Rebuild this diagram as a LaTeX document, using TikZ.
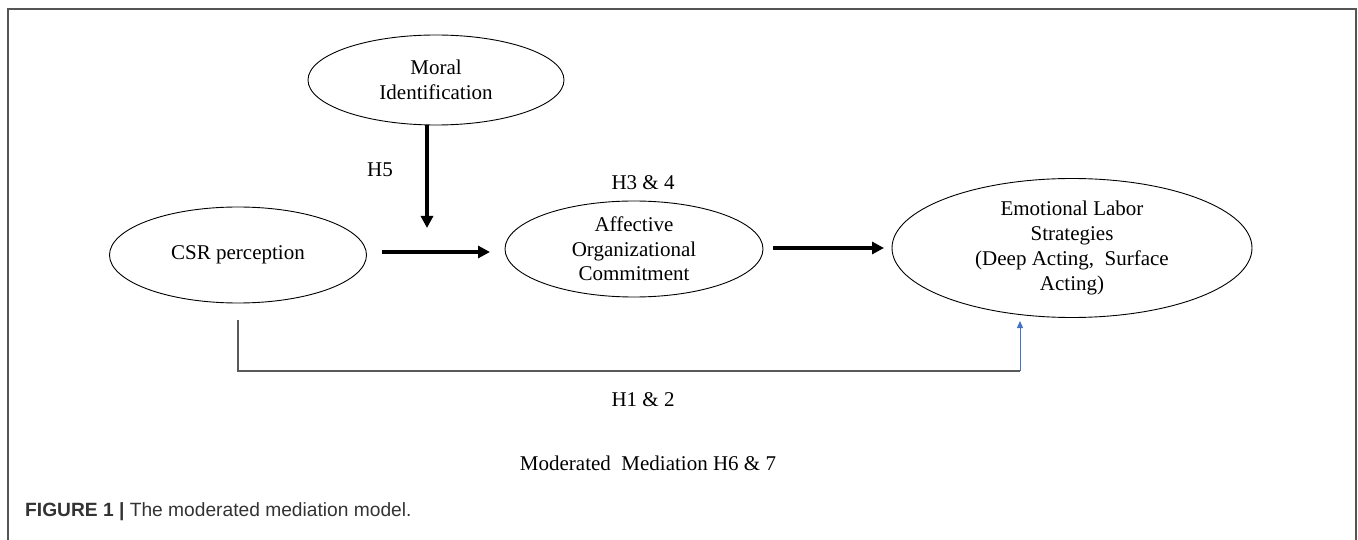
\documentclass[tikz,border=0pt]{standalone}
\usepackage{fontspec}
\setmainfont{Liberation Serif}
\newfontfamily\capfont{Liberation Sans}
\usetikzlibrary{shapes.geometric,arrows.meta}
\definecolor{framegray}{HTML}{555555}
\definecolor{linkgray}{HTML}{595959}
\definecolor{linkblue}{HTML}{4472C4}
\definecolor{captext}{HTML}{333333}
\begin{document}
\begin{tikzpicture}[x=1pt,y=-1pt,
  oval/.style={draw, ellipse, line width=0.9pt, inner sep=0pt, align=center,
    font=\fontsize{21}{24.5}\selectfont},
  lbl/.style={font=\fontsize{21}{25}\selectfont, inner sep=0pt},
  bigarrow/.style={line width=3.5pt, -{Triangle[length=12pt,width=12pt]}},
  thinlink/.style={line width=1.3pt, draw=linkgray},
  bluearrow/.style={line width=1pt, draw=linkblue, -{Triangle[length=7pt,width=6pt]}, fill=linkblue},
]
\useasboundingbox (0,0) rectangle (1358,540);
\draw[line width=1.5pt, draw=framegray] (8,540) -- (8,9) -- (1356,9) -- (1356,540);

\node[oval, minimum width=256pt, minimum height=90pt] (moral) at (436,80) {Moral\\Identification};
\node[oval, minimum width=257pt, minimum height=96pt] (csr) at (238,255) {CSR perception};
\node[oval, minimum width=258pt, minimum height=96pt] (aoc) at (634,249) {Affective\\Organizational\\Commitment};
\node[oval, minimum width=360pt, minimum height=139pt, font=\fontsize{21}{25}\selectfont] (els) at (1072,248)
  {Emotional Labor\\Strategies\\(Deep Acting,\ \ Surface\\Acting)};

\coordinate (a1s) at (382,252);
\coordinate (a1e) at (490,252);
\coordinate (mods) at (427,125);
\coordinate (mode) at (427,228);
\coordinate (a2s) at (773,248);
\coordinate (a2e) at (884,248);
\coordinate (csrb) at (238,320);
\coordinate (c1) at (238,371);
\coordinate (c2) at (1020,371);
\coordinate (elsb) at (1020,321);

\draw[bigarrow] (mods) -- (mode);
\draw[bigarrow] (a1s) -- (a1e);
\draw[bigarrow] (a2s) -- (a2e);
\draw[thinlink] (csrb) -- (c1) -- (c2);
\draw[bluearrow] (c2) -- (elsb);

\node[lbl] (h5) at (380,170) {H5};
\node[lbl] (h34) at (643,183) {H3 \& 4};
\node[lbl] (h12) at (643,400) {H1 \& 2};
\node[lbl] (mm) at (648,463) {Moderated\ \ Mediation H6 \& 7};

\node[anchor=west, inner sep=0pt, text=captext, font=\capfont\fontsize{19.2}{21}\selectfont] (cap) at (25,512)
  {\textbf{FIGURE 1} \textbf{|} The moderated mediation model.};
\end{tikzpicture}
\end{document}
